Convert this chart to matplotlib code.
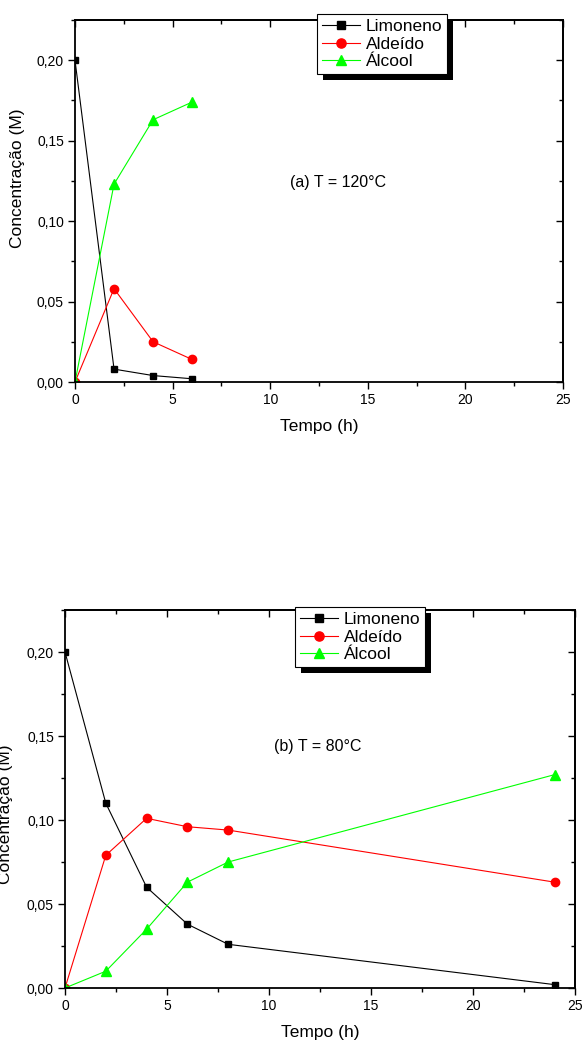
import matplotlib
matplotlib.use("Agg")
import matplotlib.pyplot as plt
from matplotlib.ticker import MultipleLocator, FuncFormatter
from matplotlib.patches import Rectangle
from matplotlib.transforms import IdentityTransform

plt.rcParams['font.family'] = ['Liberation Sans', 'DejaVu Sans']

LARGURA, ALTURA = 584, 1043

NOMES = ["Limoneno", "Aldeído", "Álcool"]
CORES = ["black", "#ff0000", "#00ff00"]
MARCADORES = ["s", "o", "^"]
TAM_MARCADOR = [5.0, 6.0, 6.5]

# (a) T = 120 °C
tempo_a = [0, 2, 4, 6]
limoneno_a = [0.200, 0.008, 0.004, 0.002]
aldeido_a = [0.0, 0.058, 0.025, 0.014]
alcool_a = [0.0, 0.123, 0.163, 0.174]

# (b) T = 80 °C
tempo_b = [0, 2, 4, 6, 8, 24]
limoneno_b = [0.200, 0.110, 0.060, 0.038, 0.026, 0.002]
aldeido_b = [0.0, 0.079, 0.101, 0.096, 0.094, 0.063]
alcool_b = [0.0, 0.010, 0.035, 0.063, 0.075, 0.127]


def px(x, y):
    # pixel (origem no canto superior esquerdo) -> coordenadas da figura
    return x / LARGURA, 1 - y / ALTURA


def retangulo(x0, y0, x1, y1):
    return [x0 / LARGURA, 1 - y1 / ALTURA, (x1 - x0) / LARGURA, (y1 - y0) / ALTURA]


virgula = FuncFormatter(lambda v, pos: f"{v:.2f}".replace(".", ","))


def painel(fig, ret, tempo, series, titulo, pos_titulo, pos_leg, pos_ylabel, pos_xlabel):
    ax = fig.add_axes(ret)
    ax.set_facecolor("none")
    for y, nome, cor, mk, ms in zip(series, NOMES, CORES, MARCADORES, TAM_MARCADOR):
        ax.plot(tempo, y, color=cor, lw=0.8, marker=mk, ms=ms,
                markerfacecolor=cor, markeredgecolor=cor, label=nome)

    ax.set_xlim(0, 25)
    ax.set_ylim(0, 0.225)
    ax.xaxis.set_major_locator(MultipleLocator(5))
    ax.xaxis.set_minor_locator(MultipleLocator(2.5))
    ax.yaxis.set_major_locator(MultipleLocator(0.05))
    ax.yaxis.set_minor_locator(MultipleLocator(0.025))
    ax.yaxis.set_major_formatter(virgula)
    ax.tick_params(which="both", direction="out", top=False, right=False,
                   labelsize=10, width=1.0, colors="black")
    ax.tick_params(which="major", length=5, pad=3)
    ax.tick_params(which="minor", length=3)
    for lado in ax.spines.values():
        lado.set_linewidth(1.3)

    # ticks espelhados (para dentro) no topo e na direita
    topo = ax.secondary_xaxis("top")
    direita = ax.secondary_yaxis("right")
    for sec in (topo, direita):
        sec.tick_params(which="both", direction="in", width=1.0)
        sec.tick_params(which="major", length=5)
        sec.tick_params(which="minor", length=3)
    topo.xaxis.set_major_locator(MultipleLocator(5))
    topo.xaxis.set_minor_locator(MultipleLocator(2.5))
    topo.set_xticklabels([])
    direita.yaxis.set_major_locator(MultipleLocator(0.05))
    direita.yaxis.set_minor_locator(MultipleLocator(0.025))
    direita.set_yticklabels([])
    for sec in (topo, direita):
        for lado in sec.spines.values():
            lado.set_linewidth(1.3)

    ax.set_xlabel("Tempo (h)", fontsize=12.5, va="center")
    ax.xaxis.set_label_coords(*px(*pos_xlabel), transform=fig.transFigure)
    ax.set_ylabel("Concentração (M)", fontsize=12.5, va="center")
    ax.yaxis.set_label_coords(*px(*pos_ylabel), transform=fig.transFigure)

    fig.text(*px(*pos_titulo), titulo, fontsize=11.5, ha="center", va="center")

    leg = ax.legend(loc="upper left", bbox_to_anchor=px(*pos_leg),
                    bbox_transform=fig.transFigure, borderaxespad=0,
                    fancybox=False, framealpha=1, edgecolor="black",
                    fontsize=12.5, handlelength=2.2, handletextpad=0.3,
                    borderpad=0.3, labelspacing=0.12, markerscale=1.1)
    leg.get_frame().set_linewidth(0.8)
    leg.set_zorder(6)
    return ax, leg


fig = plt.figure(figsize=(LARGURA / 100, ALTURA / 100), dpi=100)

ax_a, leg_a = painel(fig, retangulo(75, 20, 563, 382), tempo_a,
                     [limoneno_a, aldeido_a, alcool_a], "(a) T = 120°C",
                     (338, 182), (317, 14), (18, 178), (319, 427))
ax_b, leg_b = painel(fig, retangulo(65, 610, 575, 988), tempo_b,
                     [limoneno_b, aldeido_b, alcool_b], "(b) T = 80°C",
                     (318, 747), (295, 607), (6, 814), (320, 1033))

# sombra preta deslocada atrás de cada legenda
fig.canvas.draw()
renderer = fig.canvas.get_renderer()
for ax, leg in ((ax_a, leg_a), (ax_b, leg_b)):
    bb = leg.get_frame().get_window_extent(renderer)
    sombra = Rectangle((bb.x0 + 6, bb.y0 - 6), bb.width, bb.height,
                       facecolor="black", edgecolor="none",
                       transform=IdentityTransform(), clip_on=False, zorder=5)
    ax.add_artist(sombra)

fig.savefig("out.png", dpi=100)
